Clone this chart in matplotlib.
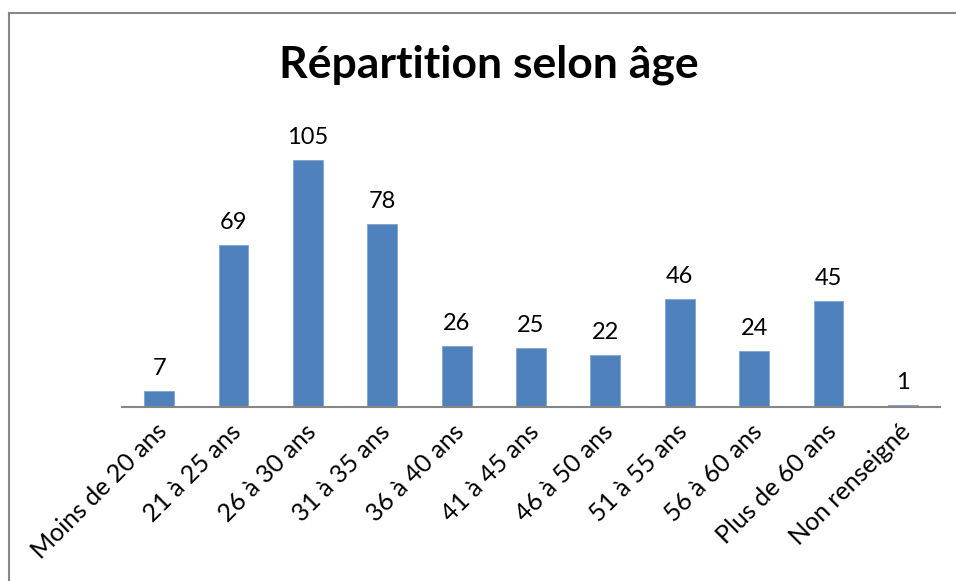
import numpy as np
import matplotlib.pyplot as plt
import matplotlib.transforms as mtransforms
from matplotlib.lines import Line2D

# données
categories = ["Moins de 20 ans", "21 à 25 ans", "26 à 30 ans", "31 à 35 ans",
              "36 à 40 ans", "41 à 45 ans", "46 à 50 ans", "51 à 55 ans",
              "56 à 60 ans", "Plus de 60 ans", "Non renseigné"]
effectifs = [7, 69, 105, 78, 26, 25, 22, 46, 24, 45, 1]

plt.rcParams['font.family'] = ['Lato', 'DejaVu Sans']

fig = plt.figure(figsize=(9.56, 5.81), dpi=100)
ax = fig.add_axes([122/956, 1-407/581, (940-122)/956, (407-125)/581])

x = np.arange(len(categories))
bars = ax.bar(x, effectifs, width=0.4, color='#4F81BD', edgecolor='#7FA3D2', linewidth=0.6)
for xi, v in zip(x, effectifs):
    ax.annotate(str(v), (xi, v), xytext=(0, 8.5), textcoords='offset points',
                ha='center', va='bottom', fontsize=17)

ax.set_xlim(-0.5, len(categories)-0.5)
ax.set_ylim(0, 120)
ax.set_yticks([])
for s in ['top', 'right', 'left']:
    ax.spines[s].set_visible(False)
ax.spines['bottom'].set_color('#868686')
ax.spines['bottom'].set_linewidth(1.5)
ax.set_xticks(x)
ax.set_xticklabels(categories, rotation=45, ha='right', rotation_mode='anchor', fontsize=18)
ax.tick_params(axis='x', length=0, pad=9)
decal = mtransforms.ScaledTranslation(-4/100, 0, fig.dpi_scale_trans)
for lab in ax.get_xticklabels():
    lab.set_transform(lab.get_transform() + decal)

fig.text(0.511, 1-65/581, "Répartition selon âge", ha='center', va='center',
         fontsize=32, fontweight='bold')

# cadre du graphique
fig.add_artist(Line2D([9/956, 9/956], [0, 1-13/581], color='#868686', lw=1.5))
fig.add_artist(Line2D([9/956, 1], [1-13/581, 1-13/581], color='#868686', lw=1.5))

fig.savefig('out.png', dpi=100)
